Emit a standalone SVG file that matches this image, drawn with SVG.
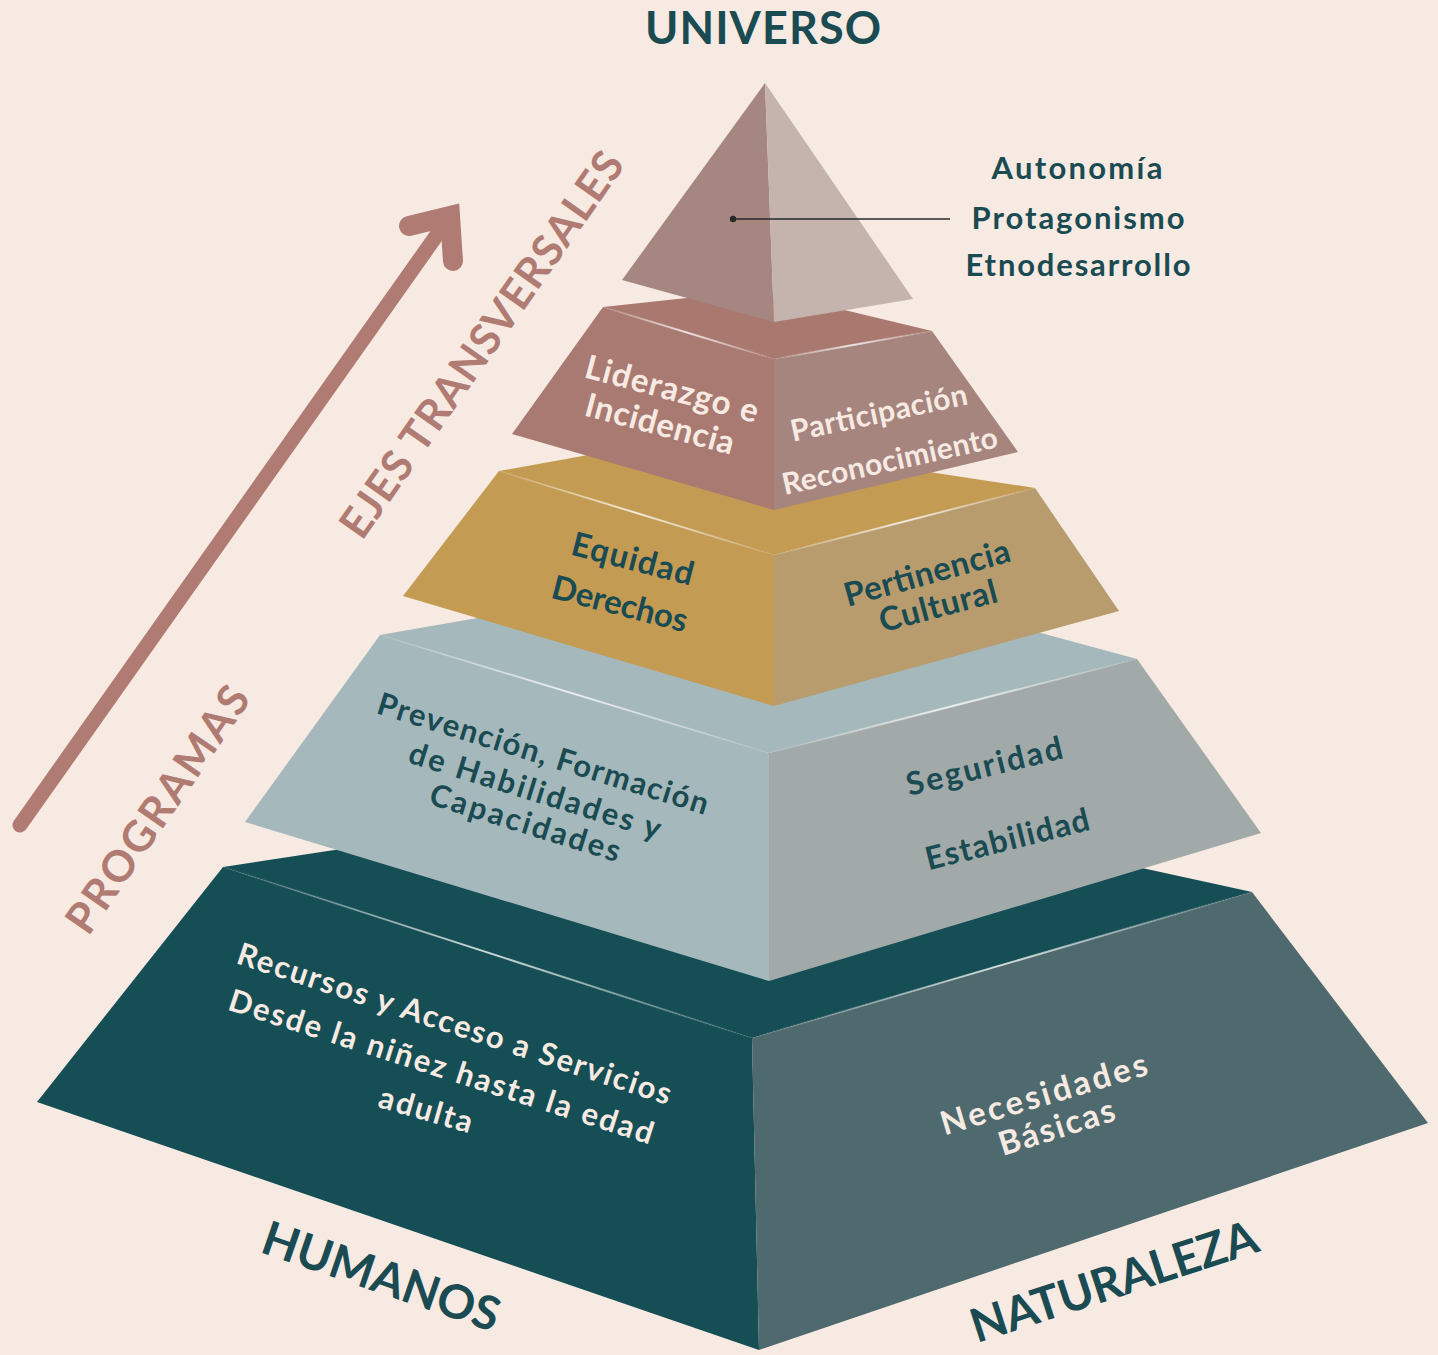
<svg xmlns="http://www.w3.org/2000/svg" width="1438" height="1355" viewBox="0 0 1438 1355">
<defs>
<style>
.t{font-family:Lato,"Open Sans","Liberation Sans",sans-serif;font-weight:700;text-anchor:middle}
.teal{fill:#1A4B52}
.cream{fill:#F6EAE2}
.pink{fill:#B07B72}
.hl{fill:none;stroke:url(#hlg);stroke-width:2}
</style>
<linearGradient id="hlg" x1="0" y1="0" x2="1" y2="0">
<stop offset="0" stop-color="#ffffff" stop-opacity="0"/>
<stop offset="0.5" stop-color="#ffffff" stop-opacity="0.75"/>
<stop offset="1" stop-color="#ffffff" stop-opacity="0"/>
</linearGradient>
</defs>
<rect x="0" y="0" width="1438" height="1355" fill="#F6EAE2"/>

<g id="layer5">
<polygon points="223,867 762,785 1252,892 752,1038" fill="#154E55"/>
<polygon points="223,867 752,1038 759,1350 37,1102" fill="#164E55"/>
<polygon points="752,1038 1252,892 1428,1123 759,1350" fill="#4F6A6E"/>
<line class="hl" x1="223" y1="867" x2="752" y2="1038"/>
<line class="hl" x1="752" y1="1038" x2="1252" y2="892"/>
<text class="t cream" font-size="31" transform="translate(451,1034) rotate(18.2)" textLength="455">Recursos y Acceso a Servicios</text>
<text class="t cream" font-size="31" transform="translate(438,1077) rotate(17.7)" textLength="444">Desde la niñez hasta la edad</text>
<text class="t cream" font-size="31" transform="translate(423,1120) rotate(16)" textLength="96">adulta</text>
<text class="t cream" font-size="33" transform="translate(1047,1105) rotate(-16.6)" textLength="214">Necesidades</text>
<text class="t cream" font-size="33" transform="translate(1060,1138) rotate(-17.5)" textLength="120">Básicas</text>
</g>

<g id="layer4">
<polygon points="380,635 785,564 1137,659 769,753" fill="#A5B8BB"/>
<polygon points="380,635 769,753 769,981 245,822" fill="#A5B8BB"/>
<polygon points="769,753 1137,659 1261,833 769,981" fill="#A1AAA8"/>
<line class="hl" x1="380" y1="635" x2="769" y2="753"/>
<line class="hl" x1="769" y1="753" x2="1137" y2="659"/>
<text class="t teal" font-size="31" transform="translate(540,764) rotate(17.2)" textLength="345">Prevención, Formación</text>
<text class="t teal" font-size="31" transform="translate(532,801) rotate(17.2)" textLength="262">de Habilidades y</text>
<text class="t teal" font-size="31" transform="translate(522,833) rotate(17.2)" textLength="198">Capacidades</text>
<text class="t teal" font-size="32" transform="translate(987,777) rotate(-13.8)" textLength="160">Seguridad</text>
<text class="t teal" font-size="32" transform="translate(1010,850) rotate(-14)" textLength="168">Estabilidad</text>
</g>

<g id="layer3">
<polygon points="499,471 693,436 1035,488 774,555" fill="#C49B53"/>
<polygon points="499,471 774,555 774,706 403,596" fill="#C49B53"/>
<polygon points="774,555 1035,488 1119,611 774,706" fill="#B89C6D"/>
<line class="hl" x1="499" y1="471" x2="774" y2="555"/>
<line class="hl" x1="774" y1="555" x2="1035" y2="488"/>
<text class="t teal" font-size="33" transform="translate(630,570) rotate(14.5)" textLength="125">Equidad</text>
<text class="t teal" font-size="33" transform="translate(617,615) rotate(14.5)" textLength="139">Derechos</text>
<text class="t teal" font-size="33" transform="translate(930,584) rotate(-15.6)" textLength="171">Pertinencia</text>
<text class="t teal" font-size="33" transform="translate(941,617) rotate(-14.8)" textLength="121">Cultural</text>
</g>

<g id="layer2">
<polygon points="603,307 761,290 932,331 774,359" fill="#A97970"/>
<polygon points="603,307 774,359 774,510 512,434" fill="#A97A72"/>
<polygon points="774,359 932,331 1018,452 774,510" fill="#A6857F"/>
<line class="hl" x1="603" y1="307" x2="774" y2="359"/>
<line class="hl" x1="774" y1="359" x2="932" y2="331"/>
<text class="t cream" font-size="33" transform="translate(669,400) rotate(15)" textLength="178">Liderazgo e</text>
<text class="t cream" font-size="33" transform="translate(657,435) rotate(15)" textLength="153">Incidencia</text>
<text class="t cream" font-size="30" transform="translate(881,423) rotate(-12)" textLength="180">Participación</text>
<text class="t cream" font-size="30" transform="translate(892,471) rotate(-12.6)" textLength="220">Reconocimiento</text>
</g>

<g id="apex">
<polygon points="765,83 622,280 774,322" fill="#A68681"/>
<polygon points="765,83 774,322 913,299" fill="#C4B4AD"/>
</g>

<g id="labels">
<text class="t teal" font-size="45" x="763" y="44" textLength="236">UNIVERSO</text>
<text class="t teal" font-size="31" x="1077" y="179" textLength="171">Autonomía</text>
<text class="t teal" font-size="31" x="1078" y="229" textLength="213">Protagonismo</text>
<text class="t teal" font-size="31" x="1078" y="276" textLength="225">Etnodesarrollo</text>
<text class="t teal" font-size="47" transform="translate(376,1292) rotate(19)" textLength="248">HUMANOS</text>
<text class="t teal" font-size="47" transform="translate(1119,1297) rotate(-18)" textLength="299">NATURALEZA</text>
<text class="t pink" font-size="43" transform="translate(494,353) rotate(-55)" textLength="460">EJES TRANSVERSALES</text>
<text class="t pink" font-size="43" transform="translate(170,818) rotate(-55.5)" textLength="289">PROGRAMAS</text>
</g>

<g id="connectors">
<line x1="733" y1="219" x2="950" y2="219" stroke="#2A2A2A" stroke-width="1.6"/>
<circle cx="733" cy="219" r="3.2" fill="#2A2A2A"/>
<line x1="20" y1="825" x2="446" y2="222" stroke="#B07B72" stroke-width="15" stroke-linecap="round"/>
<polyline points="409,226 450,216 453,261" fill="none" stroke="#B07B72" stroke-width="20" stroke-linecap="round" stroke-linejoin="miter" stroke-miterlimit="10"/>
</g>
</svg>
